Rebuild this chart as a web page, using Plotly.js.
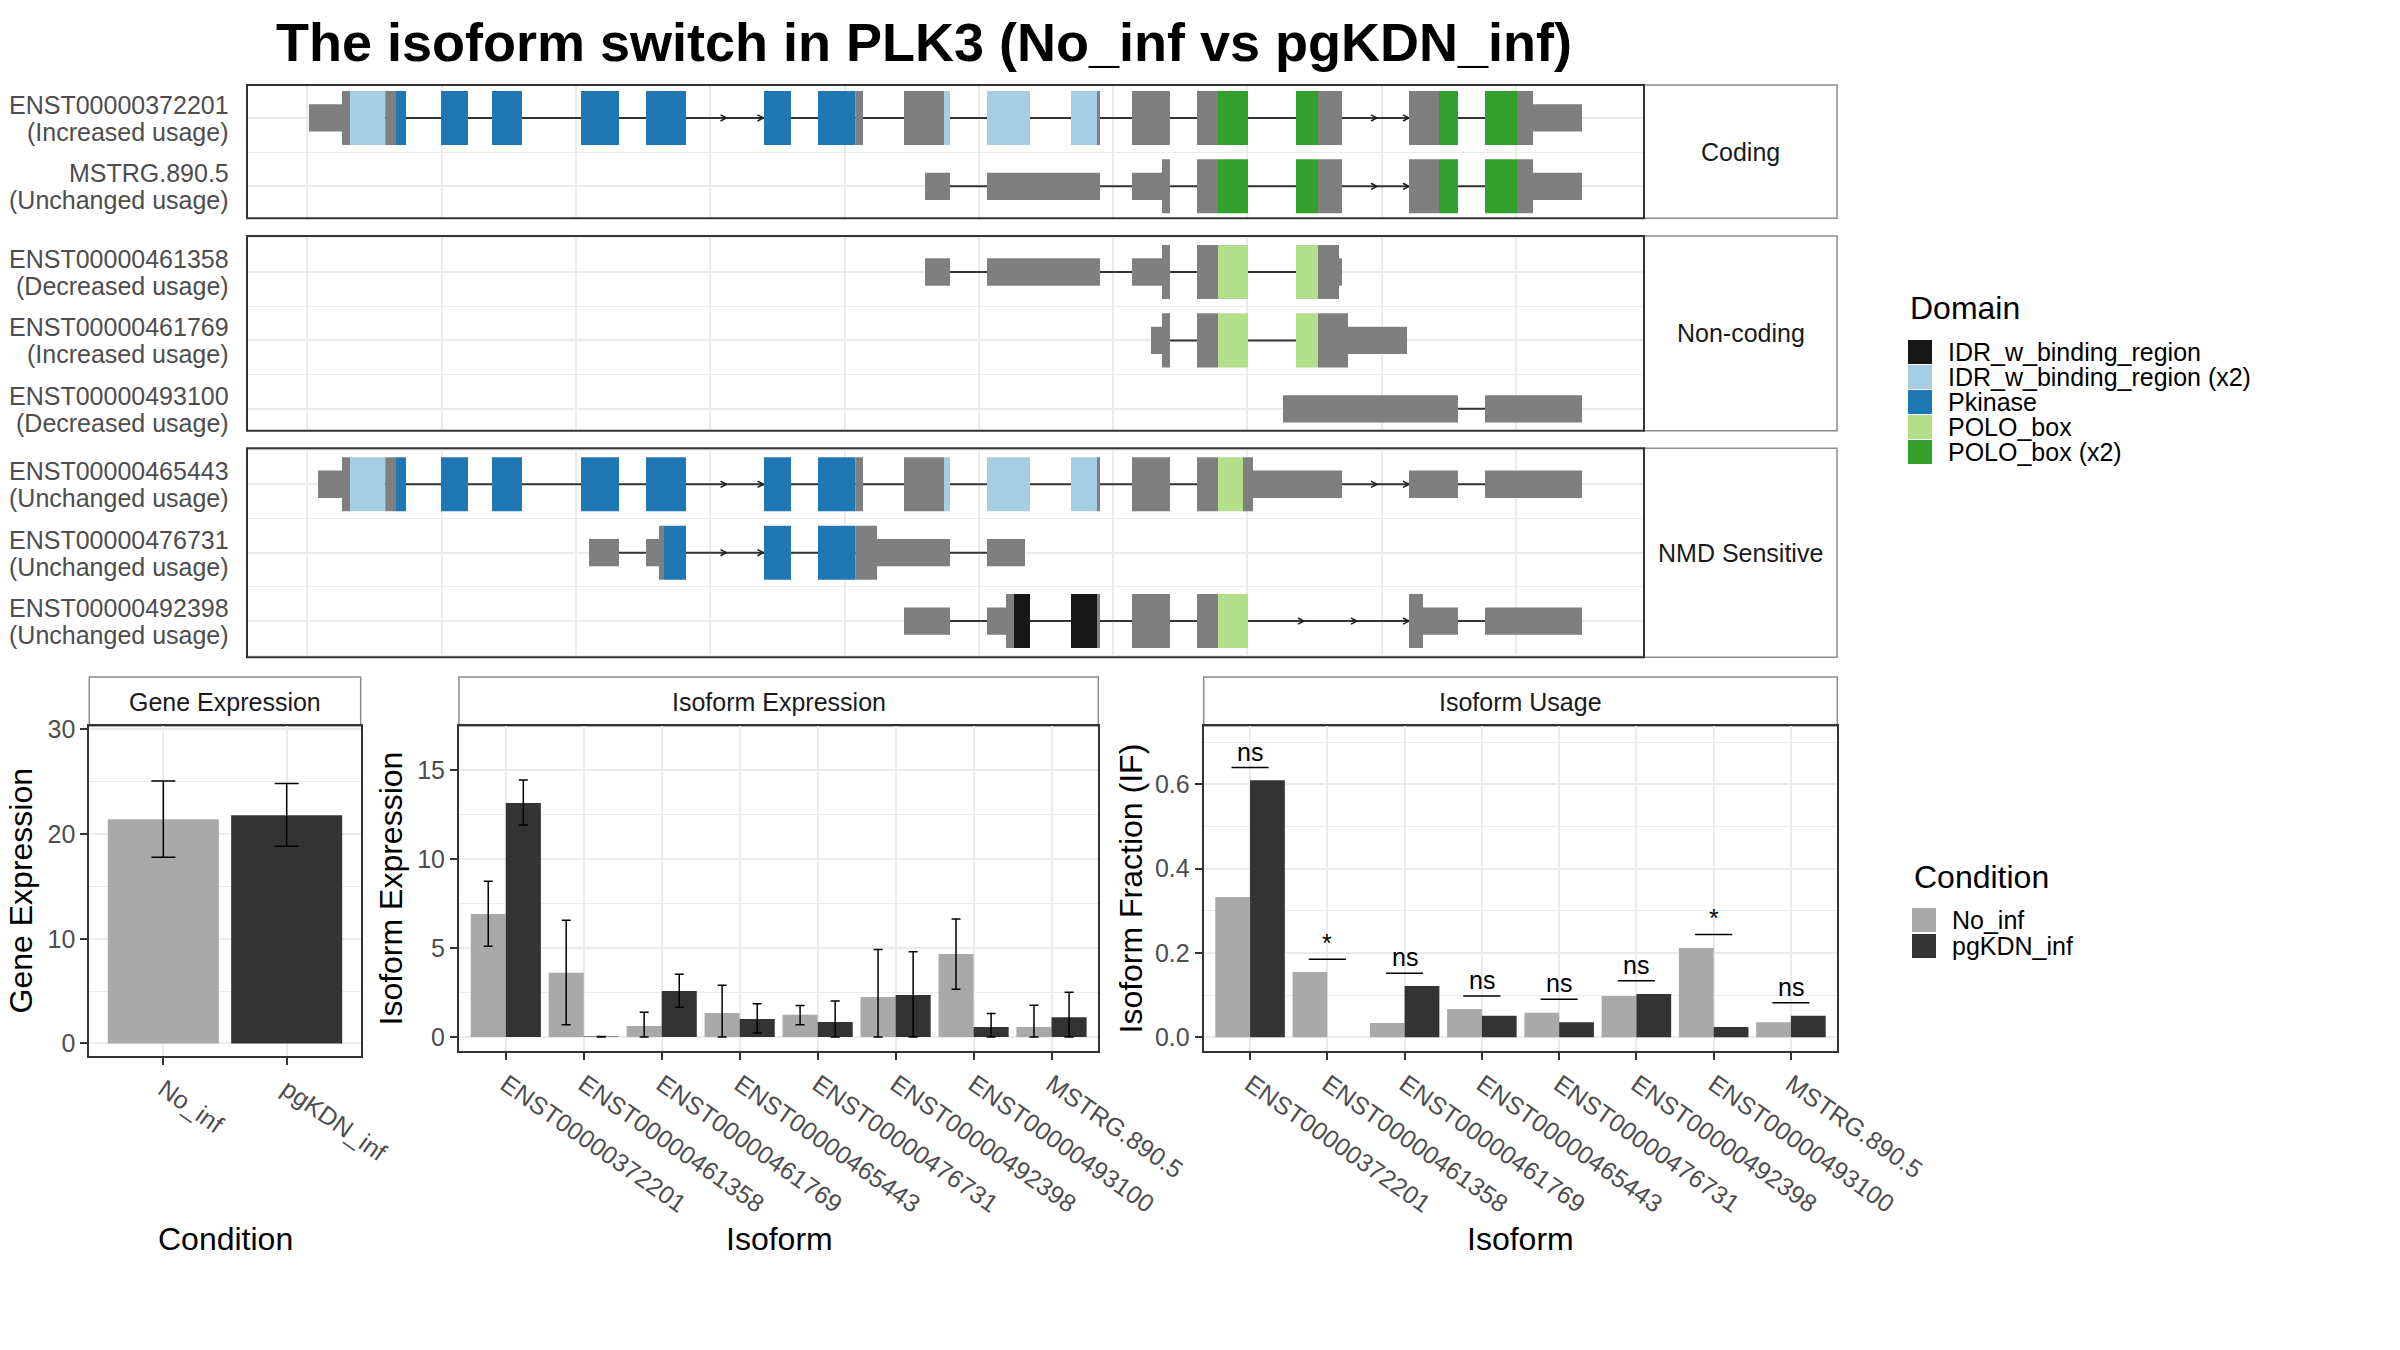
<!DOCTYPE html>
<html><head><meta charset="utf-8">
<script src="https://cdn.plot.ly/plotly-3.0.1.min.js"></script>
<style>html,body{margin:0;padding:0;background:#fff}</style>
</head><body><div id="chart" style="width:2400px;height:1350px"></div>
<script>
// ---------------- data ----------------
const conditions = ['No_inf', 'pgKDN_inf'];
const conditionColors = ['#A9A9A9', '#333333'];

const geneExpr = [21.43, 21.80];
const geneLow  = [17.80, 18.83];
const geneHigh = [25.07, 24.84];

const isoforms = ['ENST00000372201', 'ENST00000461358', 'ENST00000461769', 'ENST00000465443',
                  'ENST00000476731', 'ENST00000492398', 'ENST00000493100', 'MSTRG.890.5'];
const exprNoInf     = [6.91, 3.60, 0.62, 1.35, 1.24, 2.25, 4.66, 0.56];
const exprNoInfLow  = [5.09, 0.69, 0.00, 0.00, 0.69, 0.00, 2.68, 0.00];
const exprNoInfHigh = [8.75, 6.55, 1.39, 2.90, 1.76, 4.91, 6.63, 1.78];
const exprPg        = [13.15, 0.02, 2.58, 1.01, 0.84, 2.36, 0.56, 1.10];
const exprPgLow     = [11.91, 0.00, 1.67, 0.22, 0.00, 0.00, 0.00, 0.00];
const exprPgHigh    = [14.44, 0.03, 3.52, 1.87, 2.02, 4.79, 1.31, 2.51];

const ifNoInf = [0.333, 0.155, 0.034, 0.067, 0.058, 0.098, 0.212, 0.036];
const ifPg    = [0.610, 0.000, 0.122, 0.051, 0.036, 0.103, 0.0245, 0.051];
const sigLabels = ['ns', '*', 'ns', 'ns', 'ns', 'ns', '*', 'ns'];
const sigLineY  = [0.640, 0.185, 0.152, 0.098, 0.090, 0.134, 0.244, 0.082];

const domainNames  = ['IDR_w_binding_region', 'IDR_w_binding_region (x2)', 'Pkinase', 'POLO_box', 'POLO_box (x2)'];
const domainColors = ['#171717', '#A6CEE3', '#1F78B4', '#B2DF8A', '#33A02C'];
const noDomainColor = '#7F7F7F';

const classNames = ['Coding', 'Non-coding', 'NMD Sensitive'];
const transcriptIds   = ['ENST00000372201', 'MSTRG.890.5', 'ENST00000461358', 'ENST00000461769',
                         'ENST00000493100', 'ENST00000465443', 'ENST00000476731', 'ENST00000492398'];
const transcriptUsage = ['Increased usage', 'Unchanged usage', 'Decreased usage', 'Increased usage',
                         'Decreased usage', 'Unchanged usage', 'Unchanged usage', 'Unchanged usage'];
const transcriptClass = ['Coding', 'Coding', 'Non-coding', 'Non-coding', 'Non-coding',
                         'NMD Sensitive', 'NMD Sensitive', 'NMD Sensitive'];

// exon segments (rescaled transcript coordinates): [start, end, part, domain index (-1 = none)]
const exons_ENST00000372201 = [
  [309,342,'utr',-1],[342,350,'cds',-1],[350,385.3,'cds',1],[385.3,396,'cds',-1],[396,406,'cds',2],
  [441,468,'cds',2],[492,522,'cds',2],[581,619,'cds',2],[646,686,'cds',2],[764,791,'cds',2],
  [818,855.3,'cds',2],[855.3,863,'cds',-1],[904,944,'cds',-1],[944,950,'cds',1],[987,1030,'cds',1],
  [1071,1097,'cds',1],[1097,1100,'cds',-1],[1132,1170,'cds',-1],[1197,1218,'cds',-1],[1218,1248,'cds',4],
  [1296,1318,'cds',4],[1318,1342,'cds',-1],[1409,1439,'cds',-1],[1439,1458,'cds',4],[1485,1517,'cds',4],
  [1517,1533,'cds',-1],[1533,1582,'utr',-1]];
const exons_MSTRG_890_5 = [
  [925,950,'utr',-1],[987,1100,'utr',-1],[1132,1162,'utr',-1],[1162,1170,'cds',-1],[1197,1218,'cds',-1],
  [1218,1248,'cds',4],[1296,1318,'cds',4],[1318,1342,'cds',-1],[1409,1439,'cds',-1],[1439,1458,'cds',4],
  [1485,1517,'cds',4],[1517,1533,'cds',-1],[1533,1582,'utr',-1]];
const exons_ENST00000461358 = [
  [925,950,'utr',-1],[987,1100,'utr',-1],[1132,1162,'utr',-1],[1162,1170,'cds',-1],[1197,1218,'cds',-1],
  [1218,1248,'cds',3],[1296,1318,'cds',3],[1318,1339,'cds',-1],[1339,1342,'utr',-1]];
const exons_ENST00000461769 = [
  [1151,1162,'utr',-1],[1162,1170,'cds',-1],[1197,1218,'cds',-1],[1218,1248,'cds',3],[1296,1318,'cds',3],
  [1318,1348,'cds',-1],[1348,1407,'utr',-1]];
const exons_ENST00000493100 = [[1283,1458,'utr',-1],[1485,1582,'utr',-1]];
const exons_ENST00000465443 = [
  [318,342,'utr',-1],[342,350,'cds',-1],[350,385.3,'cds',1],[385.3,396,'cds',-1],[396,406,'cds',2],
  [441,468,'cds',2],[492,522,'cds',2],[581,619,'cds',2],[646,686,'cds',2],[764,791,'cds',2],
  [818,855.3,'cds',2],[855.3,863,'cds',-1],[904,944,'cds',-1],[944,950,'cds',1],[987,1030,'cds',1],
  [1071,1097,'cds',1],[1097,1100,'cds',-1],[1132,1170,'cds',-1],[1197,1218,'cds',-1],[1218,1243,'cds',3],
  [1243,1253,'cds',-1],[1253,1342,'utr',-1],[1409,1458,'utr',-1],[1485,1582,'utr',-1]];
const exons_ENST00000476731 = [
  [589,619,'utr',-1],[646,659,'utr',-1],[659,664,'cds',-1],[664,686,'cds',2],[764,791,'cds',2],
  [818,855.3,'cds',2],[855.3,877,'cds',-1],[877,950,'utr',-1],[987,1025,'utr',-1]];
const exons_ENST00000492398 = [
  [904,950,'utr',-1],[987,1006,'utr',-1],[1006,1014,'cds',-1],[1014,1030,'cds',0],[1071,1097,'cds',0],
  [1097,1100,'cds',-1],[1132,1170,'cds',-1],[1197,1218,'cds',-1],[1218,1248,'cds',3],[1409,1423,'cds',-1],
  [1423,1458,'utr',-1],[1485,1582,'utr',-1]];
const transcriptExons = [exons_ENST00000372201, exons_MSTRG_890_5, exons_ENST00000461358, exons_ENST00000461769,
                         exons_ENST00000493100, exons_ENST00000465443, exons_ENST00000476731, exons_ENST00000492398];
// strand direction arrows on long introns
const transcriptArrows = [[726.5,763.5,1377,1409],[1377,1409],[],[],[],[726.5,763.5,1377,1409],[726.5,763.5],[1304,1357,1409]];

// ---------------- layout helpers ----------------
const W = 2400, H = 1350;
const fx = p => p / W;
const fy = p => 1 - p / H;
const FONT = 'Liberation Sans, Arial, Helvetica, sans-serif';
const GRID = '#EBEBEB';

const traces = [], shapes = [], annotations = [];
const yNames = ['y', 'y2', 'y3'];
const panelPx = [[85, 218.3], [236, 430.7], [448.3, 657.3]];
const panelRange = [[2.468, 0.518], [3.32, 0.474], [3.53, 0.474]];

const layout = {
  width: W, height: H,
  margin: {l: 0, r: 0, t: 0, b: 0},
  paper_bgcolor: '#fff', plot_bgcolor: '#fff',
  showlegend: false,
  barmode: 'group', bargap: 0.1, bargroupgap: 0,
  font: {family: FONT, color: '#1A1A1A'},
  title: {text: '<b>The isoform switch in PLK3 (No_inf vs pgKDN_inf)</b>', x: fx(924), xanchor: 'center',
          y: fy(42), yanchor: 'middle', font: {size: 54, color: '#000', family: FONT}},
  xaxis: {domain: [fx(247), fx(1644)], range: [247, 1644], anchor: 'y3', tickmode: 'linear', tick0: 307.3, dtick: 134.3,
          showgrid: true, gridcolor: GRID, gridwidth: 2, showticklabels: false, ticks: '', zeroline: false, showline: false, fixedrange: true}
};
yNames.forEach((yn, k) => {
  const key = k === 0 ? 'yaxis' : 'yaxis' + (k + 1);
  layout[key] = {domain: [fy(panelPx[k][1]), fy(panelPx[k][0])], range: panelRange[k], anchor: 'x',
    tickmode: 'linear', tick0: 1, dtick: 1, showgrid: true, gridcolor: GRID, gridwidth: 2,
    minor: {dtick: 0.5, tick0: 0.5, showgrid: true, gridcolor: GRID, gridwidth: 1.2},
    showticklabels: false, ticks: '', zeroline: false, showline: false, fixedrange: true};
  // strip box on the right
  shapes.push({type: 'rect', xref: 'paper', yref: 'paper', x0: fx(1644), x1: fx(1837),
    y0: fy(panelPx[k][1]), y1: fy(panelPx[k][0]), line: {color: '#8C8C8C', width: 1.5}, fillcolor: '#fff', layer: 'below'});
  annotations.push({xref: 'paper', yref: 'paper', x: fx(1740.5), y: fy((panelPx[k][0] + panelPx[k][1]) / 2),
    text: classNames[k], showarrow: false, xanchor: 'center', yanchor: 'middle', font: {size: 25, color: '#1A1A1A', family: FONT}});
});

// transcripts
const rowCount = [0, 0, 0];
transcriptIds.forEach((id, i) => {
  const k = classNames.indexOf(transcriptClass[i]);
  const ya = yNames[k];
  rowCount[k] += 1;
  const row = rowCount[k];
  const ex = transcriptExons[i];
  const xs = Math.min(...ex.map(e => e[0])), xe = Math.max(...ex.map(e => e[1]));
  traces.push({type: 'scatter', mode: 'lines', x: [xs, xe], y: [row, row], xaxis: 'x', yaxis: ya,
    line: {color: '#333333', width: 2}, hoverinfo: 'skip'});
  ex.forEach(e => {
    const h = e[2] === 'cds' ? 0.395 : 0.2;
    shapes.push({type: 'rect', xref: 'x', yref: ya, x0: e[0], x1: e[1], y0: row - h, y1: row + h,
      fillcolor: e[3] >= 0 ? domainColors[e[3]] : noDomainColor, line: {width: 0}, layer: 'above'});
  });
  const axx = [], ayy = [];
  transcriptArrows[i].forEach(t => { axx.push(t - 6, t, t - 6, null); ayy.push(row - 0.045, row, row + 0.045, null); });
  if (axx.length) traces.push({type: 'scatter', mode: 'lines', x: axx, y: ayy, xaxis: 'x', yaxis: ya,
    line: {color: '#1A1A1A', width: 1.5}, hoverinfo: 'skip'});
  annotations.push({xref: 'paper', yref: ya, x: fx(231), y: row, yshift: 13, text: id, showarrow: false,
    xanchor: 'right', yanchor: 'middle', font: {size: 25, color: '#4D4D4D', family: FONT}});
  annotations.push({xref: 'paper', yref: ya, x: fx(231), y: row, yshift: -14, text: '(' + transcriptUsage[i] + ')', showarrow: false,
    xanchor: 'right', yanchor: 'middle', font: {size: 25, color: '#4D4D4D', family: FONT}});
});
// panel borders
yNames.forEach(yn => shapes.push({type: 'rect', xref: 'x domain', yref: yn + ' domain', x0: 0, x1: 1, y0: 0, y1: 1,
  line: {color: '#333333', width: 2}, fillcolor: 'rgba(0,0,0,0)', layer: 'above'}));

// ---------------- bottom panels ----------------
function catAxis(domainPx, labels, anchor) {
  return {domain: [fx(domainPx[0]), fx(domainPx[1])], anchor: anchor, type: 'linear',
    range: [-0.6, labels.length - 0.4], tickmode: 'array', tickvals: labels.map((_, i) => i), ticktext: labels,
    tickangle: 35, tickfont: {size: 25, color: '#4D4D4D', family: FONT},
    ticks: 'outside', ticklen: 7, tickwidth: 2, tickcolor: '#333333',
    showgrid: true, gridcolor: GRID, gridwidth: 2, zeroline: false,
    showline: true, mirror: true, linecolor: '#333333', linewidth: 2, fixedrange: true};
}
function valAxis(bottomPx, range, dtick, minorDtick, fmt, anchor) {
  return {domain: [fy(bottomPx), fy(726)], anchor: anchor, range: range, tickmode: 'linear', tick0: 0, dtick: dtick,
    tickformat: fmt, tickfont: {size: 25, color: '#4D4D4D', family: FONT},
    ticks: 'outside', ticklen: 7, tickwidth: 2, tickcolor: '#333333',
    showgrid: true, gridcolor: GRID, gridwidth: 2,
    minor: {dtick: minorDtick, tick0: 0, showgrid: true, gridcolor: GRID, gridwidth: 1.2},
    zeroline: false, showline: true, mirror: true, linecolor: '#333333', linewidth: 2, fixedrange: true};
}
const geneDom = [89.3, 360.7], exprDom = [459, 1098.3], usageDom = [1203.7, 1837.3];
layout.xaxis2 = catAxis(geneDom, conditions, 'y4');
layout.xaxis3 = catAxis(exprDom, isoforms, 'y5');
layout.xaxis4 = catAxis(usageDom, isoforms, 'y6');
layout.yaxis4 = valAxis(1056, [-1.2, 30.33], 10, 5, 'd', 'x2');
layout.yaxis5 = valAxis(1051, [-0.79, 17.47], 5, 2.5, 'd', 'x3');
layout.yaxis6 = valAxis(1051, [-0.0325, 0.7386], 0.2, 0.1, '.1f', 'x4');

const idx = isoforms.map((_, i) => i);
traces.push({type: 'bar', x: conditions.map((_, i) => i), y: geneExpr, width: 0.9, xaxis: 'x2', yaxis: 'y4',
  marker: {color: conditionColors, line: {width: 0}},
  error_y: {type: 'data', symmetric: false, array: geneHigh.map((v, i) => v - geneExpr[i]),
    arrayminus: geneLow.map((v, i) => geneExpr[i] - v), color: '#000', thickness: 1.5, width: 12}, hoverinfo: 'skip'});
traces.push({type: 'bar', name: conditions[0], x: idx, y: exprNoInf, xaxis: 'x3', yaxis: 'y5',
  marker: {color: conditionColors[0], line: {width: 0}},
  error_y: {type: 'data', symmetric: false, array: exprNoInfHigh.map((v, i) => v - exprNoInf[i]),
    arrayminus: exprNoInfLow.map((v, i) => exprNoInf[i] - v), color: '#000', thickness: 1.5, width: 4.5}, hoverinfo: 'skip'});
traces.push({type: 'bar', name: conditions[1], x: idx, y: exprPg, xaxis: 'x3', yaxis: 'y5',
  marker: {color: conditionColors[1], line: {width: 0}},
  error_y: {type: 'data', symmetric: false, array: exprPgHigh.map((v, i) => v - exprPg[i]),
    arrayminus: exprPgLow.map((v, i) => exprPg[i] - v), color: '#000', thickness: 1.5, width: 4.5}, hoverinfo: 'skip'});
traces.push({type: 'bar', name: conditions[0], x: idx, y: ifNoInf, xaxis: 'x4', yaxis: 'y6',
  marker: {color: conditionColors[0], line: {width: 0}}, hoverinfo: 'skip'});
traces.push({type: 'bar', name: conditions[1], x: idx, y: ifPg, xaxis: 'x4', yaxis: 'y6',
  marker: {color: conditionColors[1], line: {width: 0}}, hoverinfo: 'skip'});
// significance lines and labels
const sx = [], sy = [];
sigLineY.forEach((v, i) => { sx.push(i - 0.24, i + 0.24, null); sy.push(v, v, null); });
traces.push({type: 'scatter', mode: 'lines', x: sx, y: sy, xaxis: 'x4', yaxis: 'y6', line: {color: '#000', width: 1.5}, hoverinfo: 'skip'});
sigLabels.forEach((s, i) => annotations.push({xref: 'x4', yref: 'y6', x: i, y: sigLineY[i], text: s, showarrow: false,
  xanchor: 'center', yanchor: 'bottom', yshift: 0, font: {size: 25, color: '#000', family: FONT}}));

// strips for bottom panels
[[geneDom, 'Gene Expression'], [exprDom, 'Isoform Expression'], [usageDom, 'Isoform Usage']].forEach(([d, t]) => {
  shapes.push({type: 'rect', xref: 'paper', yref: 'paper', x0: fx(d[0]), x1: fx(d[1]), y0: fy(726), y1: fy(677),
    line: {color: '#8C8C8C', width: 1.5}, fillcolor: '#fff', layer: 'below'});
  annotations.push({xref: 'paper', yref: 'paper', x: fx((d[0] + d[1]) / 2), y: fy(701.5), text: t, showarrow: false,
    xanchor: 'center', yanchor: 'middle', font: {size: 25, color: '#1A1A1A', family: FONT}});
});
// axis titles
[[225, 'Condition'], [779, 'Isoform'], [1520.5, 'Isoform']].forEach(([x, t]) => annotations.push({xref: 'paper', yref: 'paper',
  x: fx(x), y: fy(1239), text: t, showarrow: false, xanchor: 'center', yanchor: 'middle', font: {size: 32, color: '#000', family: FONT}}));
[[21.4, 891, 'Gene Expression'], [390, 888.5, 'Isoform Expression'], [1130, 888.5, 'Isoform Fraction (IF)']].forEach(([x, y, t]) =>
  annotations.push({xref: 'paper', yref: 'paper', x: fx(x), y: fy(y), text: t, textangle: -90, showarrow: false,
    xanchor: 'center', yanchor: 'middle', font: {size: 32, color: '#000', family: FONT}}));

// legends
annotations.push({xref: 'paper', yref: 'paper', x: fx(1908), y: fy(308), text: 'Domain', showarrow: false,
  xanchor: 'left', yanchor: 'middle', font: {size: 32, color: '#000', family: FONT}});
domainNames.forEach((n, i) => {
  const t = 340 + 25 * i;
  shapes.push({type: 'rect', xref: 'paper', yref: 'paper', x0: fx(1908), x1: fx(1932), y0: fy(t + 24), y1: fy(t),
    fillcolor: domainColors[i], line: {width: 0}});
  annotations.push({xref: 'paper', yref: 'paper', x: fx(1946), y: fy(t + 12), text: n, showarrow: false,
    xanchor: 'left', yanchor: 'middle', font: {size: 25, color: '#000', family: FONT}});
});
annotations.push({xref: 'paper', yref: 'paper', x: fx(1912), y: fy(877), text: 'Condition', showarrow: false,
  xanchor: 'left', yanchor: 'middle', font: {size: 32, color: '#000', family: FONT}});
conditions.forEach((n, i) => {
  const t = 908 + 26 * i;
  shapes.push({type: 'rect', xref: 'paper', yref: 'paper', x0: fx(1912), x1: fx(1936), y0: fy(t + 24), y1: fy(t),
    fillcolor: conditionColors[i], line: {width: 0}});
  annotations.push({xref: 'paper', yref: 'paper', x: fx(1950), y: fy(t + 12), text: n, showarrow: false,
    xanchor: 'left', yanchor: 'middle', font: {size: 25, color: '#000', family: FONT}});
});

layout.shapes = shapes;
layout.annotations = annotations;
Plotly.newPlot('chart', traces, layout, {staticPlot: true, displayModeBar: false});
</script></body></html>
